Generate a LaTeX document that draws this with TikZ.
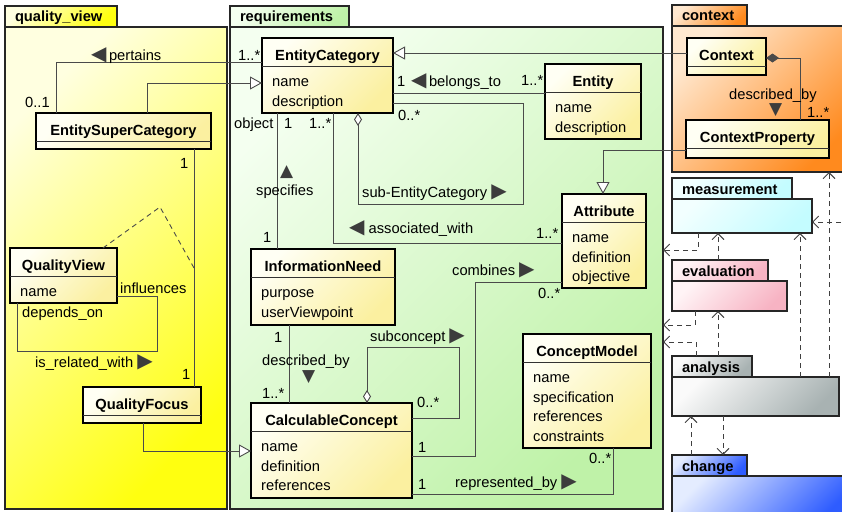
\documentclass[tikz,border=0pt]{standalone}
\usepackage{fontspec}
\setmainfont{Liberation Sans}
\newfontfamily\trifont{DejaVu Sans}
\usetikzlibrary{arrows.meta}

\definecolor{linegray}{HTML}{4A4A4A}
\definecolor{tri}{HTML}{3C3C3C}
\definecolor{clsA}{HTML}{FFFFF4}
\definecolor{clsB}{HTML}{FBF0A0}
\definecolor{qvA}{HTML}{FFFFE0}
\definecolor{qvB}{HTML}{FFFF10}
\definecolor{reqA}{HTML}{F4FFF0}
\definecolor{reqB}{HTML}{BFF2A8}
\definecolor{ctxA}{HTML}{FFE8D0}
\definecolor{ctxB}{HTML}{FF8A1E}
\definecolor{measA}{HTML}{F2FFFF}
\definecolor{measB}{HTML}{C4FCFF}
\definecolor{evalA}{HTML}{FFF4F6}
\definecolor{evalB}{HTML}{F7B3C3}
\definecolor{anaA}{HTML}{FAFAFA}
\definecolor{anaB}{HTML}{A8B2B2}
\definecolor{chgA}{HTML}{E4ECFF}
\definecolor{chgB}{HTML}{2E5CFF}

\newcommand\diagfont{\fontsize{14.7}{19.5}\selectfont}
\newcommand\dirR{{\trifont\fontsize{20}{20}\selectfont\color{tri}\char"25B6}}
\newcommand\dirL{{\trifont\fontsize{20}{20}\selectfont\color{tri}\char"25C0}}
\newcommand\dirU{{\trifont\fontsize{17}{17}\selectfont\color{tri}\char"25B2}}
\newcommand\dirD{{\trifont\fontsize{17}{17}\selectfont\color{tri}\char"25BC}}

\tikzset{
  pkg/.style={draw=black!85, line width=1.4pt, anchor=north west, inner sep=0, outer sep=0},
  pkgtab/.style={draw=black!85, line width=1.4pt, anchor=south west, inner xsep=10, inner ysep=3,
    outer sep=0, text height=13, text depth=2, align=left, font=\diagfont\bfseries},
  shadeof/.style 2 args={top color=#1, bottom color=#2, shading angle=45},
  classbox/.style={draw=black, line width=1.5pt, anchor=north west, inner sep=0, outer sep=0,
    shadeof={clsA}{clsB}},
  classsep/.style={draw=black!80, line width=0.8pt},
  classname/.style={anchor=base, inner sep=0, font=\diagfont\bfseries},
  classattr/.style={anchor=north west, align=left, inner sep=0},
  assoc/.style={draw=linegray, line width=0.9pt},
  gen/.style={assoc, -{Triangle[open, length=12pt, width=13pt, fill=white]}},
  aggr/.style={assoc, {Diamond[open, length=13pt, width=8pt, fill=white]}-},
  comp/.style={assoc, {Diamond[length=13pt, width=9pt, fill=linegray]}-},
  assocdash/.style={assoc, dashed, dash pattern=on 5pt off 4pt},
  dep/.style={draw=black!75, line width=0.9pt, dash pattern=on 5pt off 4pt,
    -{Straight Barb[length=6pt, width=12pt]}},
  lbl/.style={anchor=base west, inner sep=0}
}

% class box: name, top-left, width, height, title, attributes
\newcommand{\umlclass}[6]{%
  \node[classbox, minimum width=#3, minimum height=#4] (#1) at (#2) {};
  \draw[classsep] ([yshift=-28]#1.north west) -- ([yshift=-28]#1.north east);
  \node[classname] (#1-name) at ([yshift=-22]#1.north) {#5};
  \node[classattr] (#1-attr) at ([xshift=10,yshift=-35.5]#1.north west) {\rule{0pt}{13pt}#6};
}

\begin{document}
\begin{tikzpicture}[x=1pt, y=-1pt, font=\diagfont]
\useasboundingbox[fill=white] (0,0) rectangle (842,511);

% packages
\node[pkg, shadeof={qvA}{qvB}, minimum width=222, minimum height=482] (qview) at (5,27) {};
\node[pkgtab, shadeof={qvA}{qvB}, text width=92] (qviewtab) at (5,27) {quality\_view};
\node[pkg, shadeof={reqA}{reqB}, minimum width=433, minimum height=482] (reqs) at (230,27) {};
\node[pkgtab, shadeof={reqA}{reqB}, text width=99] (reqstab) at (230,27) {requirements};
\node[pkg, shadeof={ctxA}{ctxB}, minimum width=180, minimum height=146] (context) at (672,26) {};
\node[pkgtab, shadeof={ctxA}{ctxB}, text width=55] (contexttab) at (672,26) {context};
\node[pkg, shadeof={measA}{measB}, minimum width=140, minimum height=34] (measure) at (672,199) {};
\node[pkgtab, shadeof={measA}{measB}, text width=100] (measuretab) at (672,199) {measurement};
\node[pkg, shadeof={evalA}{evalB}, minimum width=115, minimum height=30] (evaluate) at (672,281) {};
\node[pkgtab, shadeof={evalA}{evalB}, text width=76] (evaluatetab) at (672,281) {evaluation};
\node[pkg, shadeof={anaA}{anaB}, minimum width=167, minimum height=39] (analyse) at (672,377) {};
\node[pkgtab, shadeof={anaA}{anaB}, text width=60] (analysetab) at (672,377) {analysis};
\node[pkg, shadeof={chgA}{chgB}, minimum width=180, minimum height=45] (change) at (672,476) {};
\node[pkgtab, shadeof={chgA}{chgB}, text width=55] (changetab) at (672,476) {change};

% classes
\umlclass{ESC}{36,113}{175}{36}{EntitySuperCategory}{}
\umlclass{QV}{10,248}{107}{55}{QualityView}{name}
\umlclass{QF}{83,387}{118}{36}{QualityFocus}{}
\umlclass{EC}{262,38}{131}{75}{EntityCategory}{name\\description}
\umlclass{Entity}{545,64}{96}{75}{Entity}{name\\description}
\umlclass{Attr}{562,194}{84}{94}{Attribute}{name\\definition\\objective}
\umlclass{IN}{251,249}{144}{76}{InformationNeed}{purpose\\userViewpoint}
\umlclass{CC}{251,403}{161}{95}{CalculableConcept}{name\\definition\\references}
\umlclass{CM}{523,334}{128}{114}{ConceptModel}{name\\specification\\references\\constraints}
\umlclass{Context}{687,38}{79}{37}{Context}{}
\umlclass{CP}{686,120}{143}{38}{ContextProperty}{}

% associations
\draw[assoc] ([xshift=20]ESC.north west) |- ([yshift=-24]EC.north west);
\draw[gen] ([xshift=111]ESC.north west) |- ([yshift=-45]EC.north west);
\draw[assoc] ([xshift=158]ESC.south west) -- coordinate[pos=0.5] (qvlink) ([xshift=158]ESC.south west |- QF.north);
\draw[assocdash] ([xshift=93]QV.north west) -- (160,207) -- (qvlink);
\draw[assoc] ([yshift=-48]QV.north east) -| (157,351) -| ([xshift=7]QV.south west);
\draw[gen] ([xshift=60]QF.south west) |- ([yshift=-48]CC.north west);
\draw[gen] ([yshift=-15]Context.north west) -- ([yshift=-15]EC.north east);
\draw[assoc] ([yshift=-55]EC.north east) -- ([yshift=-29]Entity.north west);
\draw[aggr] ([xshift=96]EC.south west) |- (523,204) |- ([yshift=-65]EC.north east);
\draw[assoc] ([xshift=71]EC.south west) |- ([yshift=-49]Attr.north west);
\draw[assoc] ([xshift=15]EC.south west) -- ([xshift=15]EC.south west |- IN.north);
\draw[assoc] ([xshift=38]IN.south west) -- ([xshift=38]IN.south west |- CC.north);
\draw[aggr] ([xshift=116]CC.north west) |- (459,347) |- ([yshift=-15]CC.north east);
\draw[assoc] ([yshift=-53]CC.north east) -| (475,282) -- ([yshift=-88]Attr.north west);
\draw[assoc] ([yshift=-91]CC.north east) -| ([xshift=90]CM.south west);
\draw[comp] ([yshift=-20]Context.north east) -| ([xshift=114]CP.north west);
\draw[gen] ([yshift=-30]CP.north west) -| ([xshift=41]Attr.north west);

% dependencies
\coordinate (depsrc) at (850,222);
\draw[dep] ([xshift=26]measure.south west) |- ([yshift=-223]reqs.north east);
\draw[dep] ([xshift=46]evaluatetab.north west) -- ([xshift=46]measure.south west);
\draw[dep] ([xshift=23]evaluate.south west) |- ([yshift=-298]reqs.north east);
\draw[dep] ([xshift=24]analysetab.north west) |- ([yshift=-315]reqs.north east);
\draw[dep] ([xshift=46]analysetab.north west) -- ([xshift=46]evaluate.south west);
\draw[dep] ([xshift=128]analyse.north west) -- ([xshift=128]measure.south west);
\draw[dep] ([xshift=157]analyse.north west) -- ([xshift=157]context.south west);
\draw[dep] (depsrc) -- ([yshift=-23]measure.north east);
\draw[dep] ([xshift=19]changetab.north west) -- ([xshift=19]analyse.south west);
\draw[dep] ([xshift=51]analyse.south west) -- ([xshift=51]changetab.north west);

% labels
\node[lbl] (pertainsL) at (91,60) {\dirL\,pertains};
\node[lbl] (pertainsM1) at (25,107) {0..1};
\node[lbl] (pertainsM2) at (238,60) {1..*};
\node[lbl] (focusM1) at (180,168) {1};
\node[lbl] (focusM2) at (182,379) {1};
\node[lbl] (influencesL) at (120,293) {influences};
\node[lbl] (dependsL) at (22,317) {depends\_on};
\node[lbl] (relatedL) at (35,367) {is\_related\_with \dirR};
\node[lbl] (belongsM1) at (397,86) {1};
\node[lbl] (belongsL) at (411,86) {\dirL\,belongs\_to};
\node[lbl] (belongsM2) at (521,85) {1..*};
\node[lbl] (subcatM) at (398,120) {0..*};
\node[lbl] (objectL) at (234,128) {object};
\node[lbl] (specifiesM1) at (284,128) {1};
\node[lbl] (assocM1) at (309,128) {1..*};
\node[lbl] (specifiesT) at (280,176) {\dirU};
\node[lbl] (specifiesL) at (256,195) {specifies};
\node[lbl] (specifiesM2) at (263,242) {1};
\node[lbl] (subcatL) at (362,197) {sub-EntityCategory \dirR};
\node[lbl] (assocL) at (349,233) {\dirL\ associated\_with};
\node[lbl] (assocM2) at (536,238) {1..*};
\node[lbl] (combinesL) at (452,275) {combines \dirR};
\node[lbl] (combinesM2) at (538,298) {0..*};
\node[lbl] (descrM1) at (274,342) {1};
\node[lbl] (subconL) at (370,341) {subconcept \dirR};
\node[lbl] (descrL) at (262,365) {described\_by};
\node[lbl] (descrT) at (302,381) {\dirD};
\node[lbl] (descrM2) at (262,398) {1..*};
\node[lbl] (subconM) at (417,407) {0..*};
\node[lbl] (combinesM1) at (418,452) {1};
\node[lbl] (reprM1) at (418,489) {1};
\node[lbl] (reprL) at (455,487) {represented\_by \dirR};
\node[lbl] (reprM2) at (589,463) {0..*};
\node[lbl] (ctxL) at (729,99) {described\_by};
\node[lbl] (ctxT) at (769,114) {\dirD};
\node[lbl] (ctxM) at (807,117) {1..*};
\end{tikzpicture}
\end{document}
